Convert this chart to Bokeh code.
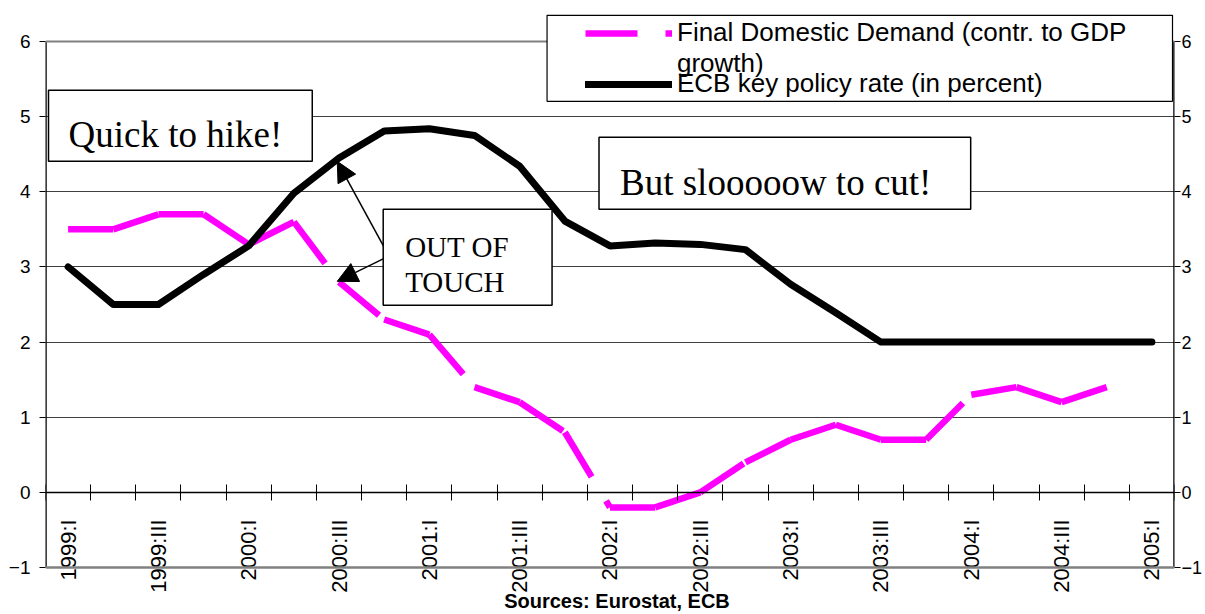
import math
import numpy as np
from bokeh.plotting import figure
from bokeh.models import (Range1d, FixedTicker, LinearAxis, Span, BoxAnnotation, Label,
                          Arrow, NormalHead, Legend, LegendItem, Grid)
from bokeh.embed import file_html
from bokeh.resources import INLINE

# ---------------- data ----------------
quarters = ["1999:I", "1999:II", "1999:III", "1999:IV",
            "2000:I", "2000:II", "2000:III", "2000:IV",
            "2001:I", "2001:II", "2001:III", "2001:IV",
            "2002:I", "2002:II", "2002:III", "2002:IV",
            "2003:I", "2003:II", "2003:III", "2003:IV",
            "2004:I", "2004:II", "2004:III", "2004:IV",
            "2005:I"]
ecb_rate = [3.0, 2.5, 2.5, 2.9, 3.28, 3.98, 4.45, 4.81, 4.84, 4.75, 4.34, 3.61,
            3.28, 3.32, 3.3, 3.23, 2.77, 2.39, 2.0, 2.0, 2.0, 2.0, 2.0, 2.0, 2.0]
final_demand = [3.5, 3.5, 3.7, 3.7, 3.3, 3.6, 2.8, 2.3, 2.1, 1.4, 1.2, 0.8,
                -0.2, -0.2, 0.0, 0.4, 0.7, 0.9, 0.7, 0.7, 1.3, 1.4, 1.2, 1.4, None]
label_every = 2
y_ticks = [-1, 0, 1, 2, 3, 4, 5, 6]

n = len(quarters)
xc = np.arange(n) + 0.5

# pink series drawn segment by segment (dash pattern restarts at each point, as in the original)
seg_xs, seg_ys = [], []
for i in range(n - 1):
    a, b = final_demand[i], final_demand[i + 1]
    if a is not None and b is not None:
        seg_xs.append([xc[i], xc[i + 1]])
        seg_ys.append([a, b])

# ---------------- layout constants (reference pixels) ----------------
PX_PER_Y = 75.14
H = 612
FRAME_TOP, FRAME_BOTTOM = 10, 612
Y_END = 6 + (41 - FRAME_TOP) / PX_PER_Y
Y_START = -1 - (FRAME_BOTTOM - 567) / PX_PER_Y

p = figure(width=1205, height=H, x_range=Range1d(0, n), y_range=Range1d(Y_START, Y_END),
           x_axis_type=None, y_axis_type=None,
           output_backend="svg", toolbar_location=None,
           min_border_left=45, min_border_right=30, min_border_top=FRAME_TOP,
           min_border_bottom=H - FRAME_BOTTOM)
p.outline_line_color = None
p.background_fill_color = "white"
p.border_fill_color = "white"

def to_x(px):
    return (px - 45) / 45.2

def to_y(py):
    return (492 - py) / PX_PER_Y

AX_FONT = "Liberation Sans"
SERIF = "Liberation Serif"

grid = Grid(dimension=1, ticker=FixedTicker(ticks=[t for t in y_ticks if -1 < t < 6]),
            grid_line_color="black", grid_line_alpha=0.75, grid_line_width=1)
p.add_layout(grid)

yl = LinearAxis(ticker=FixedTicker(ticks=y_ticks), axis_line_color=None,
                major_tick_out=6, major_tick_in=0, minor_tick_out=0, minor_tick_in=0,
                major_tick_line_color="black", major_label_standoff=9,
                major_label_text_font=AX_FONT, major_label_text_font_size="19px",
                major_label_text_color="black")
p.add_layout(yl, "left")
yr = LinearAxis(ticker=FixedTicker(ticks=y_ticks), axis_line_color=None,
                major_tick_out=6, major_tick_in=0, minor_tick_out=0, minor_tick_in=0,
                major_tick_line_color="black", major_label_standoff=1,
                major_label_text_font=AX_FONT, major_label_text_font_size="18px",
                major_label_text_color="black")
p.add_layout(yr, "right")

xa = LinearAxis(fixed_location=0,
                ticker=FixedTicker(ticks=[float(v) for v in xc[::label_every]],
                                   minor_ticks=list(range(n + 1))),
                major_label_overrides={float(xc[i]): quarters[i] for i in range(0, n, label_every)},
                major_label_orientation=math.pi / 2,
                major_tick_in=0, major_tick_out=0, minor_tick_in=8, minor_tick_out=8,
                minor_tick_line_color="black", axis_line_color="black", axis_line_width=1.5,
                major_label_standoff=19, major_label_text_font=AX_FONT,
                major_label_text_font_size="22px", major_label_text_color="black")
p.add_layout(xa, "below")

# frame borders
p.add_layout(Span(location=6, dimension="width", line_color="#808080", line_width=2))
p.add_layout(Span(location=-1, dimension="width", line_color="#808080", line_width=2.5))
p.segment(x0=[0, n], y0=[-1, -1], x1=[0, n], y1=[6, 6], line_color="black", line_width=2.5)

# series
pink = p.multi_line(seg_xs, seg_ys, line_color="#FF00FF", line_width=6.5,
                    line_dash="52 28", line_cap="butt", line_join="miter")
black = p.line(xc, ecb_rate, line_color="black", line_width=7,
               line_join="round", line_cap="round")

def box(l, r, t, b, lw=1.5):
    p.add_layout(BoxAnnotation(left=to_x(l), right=to_x(r), top=to_y(t), bottom=to_y(b),
                               fill_color="white", fill_alpha=1.0,
                               line_color="black", line_width=lw, line_alpha=1.0))

# arrows
head = dict(size=20, fill_color="black", line_color="black")
p.add_layout(Arrow(end=NormalHead(**head), x_start=to_x(384), y_start=to_y(247),
                   x_end=to_x(337), y_end=to_y(161), line_color="black", line_width=1.5))
p.add_layout(Arrow(end=NormalHead(**head), x_start=to_x(384), y_start=to_y(258),
                   x_end=to_x(337), y_end=to_y(281), line_color="black", line_width=1.5))

box(48, 312, 90, 161)
box(599, 971, 137, 209)
box(383, 552, 209, 305)

def lab(text, px, py, size, font=SERIF, style="normal", align="left"):
    p.add_layout(Label(x=to_x(px), y=to_y(py), text=text, text_font=font,
                       text_font_size=size, text_font_style=style, text_align=align,
                       text_baseline="alphabetic", text_color="black"))

lab("Quick to hike!", 68, 134, "37px")
lab("But sl" + "o" * 5 + "w to cut!", 620, 182, "37px")
lab("OUT OF", 405, 247, "29px")
lab("TOUCH", 405, 282, "29px")

# legend (box + two stacked legends so the rows sit as in the original)
box(547, 1173, 15, 101, lw=1.2)
leg_style = dict(padding=0, margin=0, spacing=0, glyph_width=87, glyph_height=20,
                 label_standoff=5, label_height=20, label_text_font=AX_FONT,
                 label_text_font_size="26px", label_text_color="black",
                 border_line_color=None, background_fill_alpha=0)
legend_a = Legend(items=[LegendItem(label="Final Domestic Demand (contr. to GDP", renderers=[pink]),
                         LegendItem(label="growth)", renderers=[])],
                  location=(585 - 45, FRAME_BOTTOM - 79), **leg_style)
legend_b = Legend(items=[LegendItem(label="ECB key policy rate (in percent)", renderers=[black])],
                  location=(585 - 45, FRAME_BOTTOM - 99), **leg_style)
p.add_layout(legend_a)
p.add_layout(legend_b)

lab("Sources: Eurostat, ECB", 617, 601, "20px", font=AX_FONT, style="bold", align="center")

open("out.html", "w").write(file_html(p, INLINE))
